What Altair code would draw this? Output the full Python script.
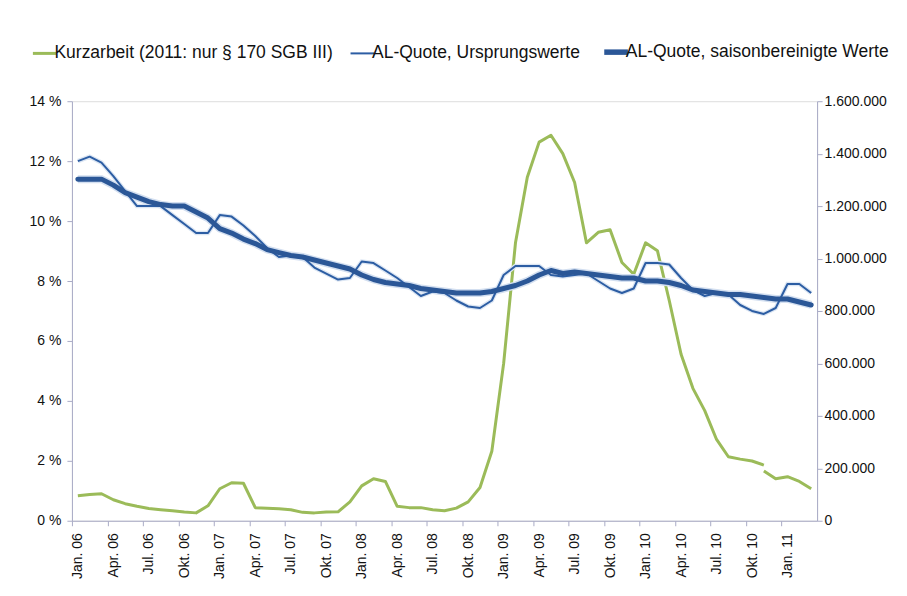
import json
import altair as alt
import pandas as pd

# ---------------- data ----------------
months = [f"{m} {y:02d}" for y in range(6, 12) for m in
          ["Jan.", "Feb.", "Mär.", "Apr.", "Mai", "Jun.", "Jul.", "Aug.", "Sep.", "Okt.", "Nov.", "Dez."]][:63]

al_orig = [12.0, 12.15, 11.95, 11.5, 11.0, 10.5, 10.5, 10.5, 10.2, 9.9, 9.6, 9.6,
           10.2, 10.15, 9.85, 9.5, 9.1, 8.8, 8.85, 8.8, 8.45, 8.25, 8.05, 8.1,
           8.65, 8.6, 8.35, 8.1, 7.8, 7.5, 7.65, 7.6, 7.35, 7.15, 7.1, 7.35,
           8.2, 8.5, 8.5, 8.5, 8.2, 8.15, 8.2, 8.25, 8.0, 7.75, 7.6, 7.75,
           8.6, 8.6, 8.55, 8.1, 7.7, 7.5, 7.6, 7.55, 7.2, 7.0, 6.9, 7.1,
           7.9, 7.9, 7.6]

al_sa = [11.4, 11.4, 11.4, 11.2, 10.95, 10.8, 10.65, 10.55, 10.5, 10.5, 10.3, 10.1,
         9.75, 9.6, 9.4, 9.25, 9.05, 8.95, 8.85, 8.8, 8.7, 8.6, 8.5, 8.4,
         8.2, 8.05, 7.95, 7.9, 7.85, 7.75, 7.7, 7.65, 7.6, 7.6, 7.6, 7.65,
         7.75, 7.85, 8.0, 8.2, 8.35, 8.25, 8.3, 8.25, 8.2, 8.15, 8.1, 8.1,
         8.0, 8.0, 7.95, 7.85, 7.7, 7.65, 7.6, 7.55, 7.55, 7.5, 7.45, 7.4,
         7.4, 7.3, 7.2]

kurz_total = [95000, 100000, 103000, 80000, 65000, 55000, 47000, 42000, 38000, 33000, 30000, 57000,
              122000, 145000, 143000, 50000, 48000, 46000, 42000, 32000, 30000, 33000, 34000, 72000,
              133000, 160000, 150000, 55000, 50000, 50000, 42000, 38000, 48000, 72000, 127000, 265000,
              600000, 1060000, 1310000, 1444000, 1470000, 1400000, 1290000, 1060000, 1100000, 1110000, 985000, 940000,
              1060000, 1030000, 840000, 635000, 505000, 420000, 310000, 244000, 235000, 228000, 212000]
kurz_170 = [190000, 160000, 168000, 150000, 122000]   # Nov. 10 - Mär. 11
kurz_170_start = 58

x_tick_labels = ["Jan. 06", "Apr. 06", "Jul. 06", "Okt. 06", "Jan. 07", "Apr. 07", "Jul. 07", "Okt. 07",
                 "Jan. 08", "Apr. 08", "Jul. 08", "Okt. 08", "Jan. 09", "Apr. 09", "Jul. 09", "Okt. 09",
                 "Jan. 10", "Apr. 10", "Jul. 10", "Okt. 10", "Jan. 11"]

S_KURZ = "Kurzarbeit (2011: nur § 170 SGB III)"
S_ORIG = "AL-Quote, Ursprungswerte"
S_SA = "AL-Quote, saisonbereinigte Werte"
series_names = [S_KURZ, S_ORIG, S_SA]
series_colors = ["#9BBB59", "#2C5DA3", "#2B5797"]

# ---------------- tables ----------------
orig_df = pd.DataFrame({"i": range(len(al_orig)), "month": months[:len(al_orig)],
                        "value": al_orig, "series": S_ORIG})
sa_df = pd.DataFrame({"i": range(len(al_sa)), "month": months[:len(al_sa)],
                      "value": al_sa, "series": S_SA})
green = pd.DataFrame(
    [{"i": i, "month": months[i], "value": v, "series": S_KURZ, "seg": "gesamt"} for i, v in enumerate(kurz_total)] +
    [{"i": kurz_170_start + k, "month": months[kurz_170_start + k], "value": v, "series": S_KURZ, "seg": "170"}
     for k, v in enumerate(kurz_170)]
)

FONT = "Liberation Sans"
AX = "#A9ABC6"
month_px = 746 / 63.0

label_expr = json.dumps(x_tick_labels) + "[round(datum.value / 3)]"

x_enc = alt.X("i:Q",
              scale=alt.Scale(domain=[-0.5, 62.5], nice=False, zero=False),
              axis=alt.Axis(values=list(range(0, 61, 3)), labelExpr=label_expr, labelAngle=-90,
                            tickOffset=-month_px / 2, labelOffset=month_px / 2,
                            title=None, grid=False, domainColor=AX, tickColor=AX, tickSize=5,
                            labelFont=FONT, labelFontSize=14, labelColor="#111", labelPadding=7))

sw_signal = f"datum.value == '{S_SA}' ? 5.5 : (datum.value == '{S_ORIG}' ? 2 : 3)"
color_enc = alt.Color("series:N", scale=alt.Scale(domain=series_names, range=series_colors),
                      legend=alt.Legend(orient="none", legendX=-36, legendY=-58, direction="horizontal",
                                        title=None, symbolType="stroke", symbolSize=560,
                                        labelFont=FONT, labelFontSize=17.5, labelColor="#111",
                                        labelLimit=0, columnPadding=12, labelOffset=1,
                                        symbolStrokeWidth={"expr": sw_signal}))

y_left = alt.Y("value:Q", scale=alt.Scale(domain=[0, 14], nice=False),
               axis=alt.Axis(orient="left", values=list(range(0, 15, 2)), labelExpr="datum.value + ' %'",
                             title=None, grid=False, domainColor=AX, tickColor=AX, tickSize=5,
                             labelFont=FONT, labelFontSize=14, labelColor="#111", labelPadding=6))

halo_sa = alt.Chart(sa_df).mark_line(color="#D3DFF0", strokeWidth=8).encode(x=x_enc, y=y_left)
halo_orig = alt.Chart(orig_df).mark_line(color="#DCE6F3", strokeWidth=4.5).encode(x=x_enc, y=y_left)
orig_line = alt.Chart(orig_df).mark_line(strokeWidth=2, strokeJoin="round").encode(
    x=x_enc, y=y_left, color=color_enc)
sa_line = alt.Chart(sa_df).mark_line(strokeWidth=5, strokeJoin="round", strokeCap="round").encode(
    x=x_enc, y=y_left, color=color_enc)

left = alt.layer(halo_orig, halo_sa, orig_line, sa_line)

y_right = alt.Y("value:Q", scale=alt.Scale(domain=[0, 1600000], nice=False),
                axis=alt.Axis(orient="right", values=list(range(0, 1600001, 200000)),
                              labelExpr="replace(replace(format(datum.value, ','), ',', '.'), ',', '.')",
                              title=None, grid=False, domainColor=AX, tickColor=AX, tickSize=5,
                              labelFont=FONT, labelFontSize=14, labelColor="#111", labelPadding=2))

green_lines = alt.Chart(green).mark_line(strokeWidth=3, strokeJoin="round").encode(
    x=x_enc, y=y_right, color=color_enc, detail="seg:N")

chart = alt.layer(green_lines, left).resolve_scale(y="independent").properties(
    width=746, height=420,
    autosize=alt.AutoSizeParams(type="none"),
    padding={"left": 64, "top": 93, "right": 82, "bottom": 60},
).configure_view(stroke=None).configure(background="white")

chart.save("out.html", embed_options={"renderer": "svg", "actions": False})
